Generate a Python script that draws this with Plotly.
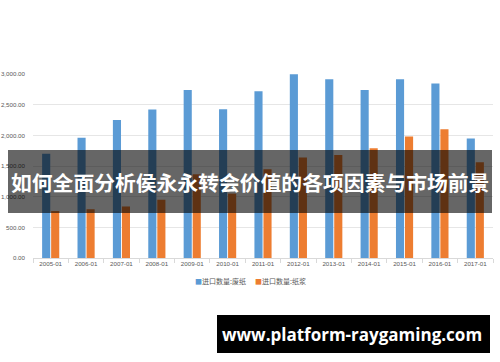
import plotly.graph_objects as go

categories = ["2005-01", "2006-01", "2007-01", "2008-01", "2009-01", "2010-01", "2011-01",
              "2012-01", "2013-01", "2014-01", "2015-01", "2016-01", "2017-01"]
waste_paper = [1700, 1960, 2250, 2420, 2740, 2425, 2720, 2995, 2915, 2740, 2915, 2845, 1950]
pulp = [765, 795, 840, 950, 1365, 1050, 1445, 1640, 1680, 1790, 1980, 2100, 1560]
series_names = ["进口数量:废纸", "进口数量:纸浆"]
y_ticks = [0, 500, 1000, 1500, 2000, 2500, 3000]
title_text = "如何全面分析侯永永转会价值的各项因素与市场前景"
watermark = "www.platform-raygaming.com"

BLUE = "#5B9BD5"
ORANGE = "#ED7D31"

W, H = 500, 362
L, R, T, B = 33, 7, 74, 104
PW, PH = W - L - R, H - T - B


def px(x):
    return (x - L) / PW


def py(y):
    return (H - B - y) / PH


fig = go.Figure()
fig.add_bar(x=categories, y=waste_paper, name=series_names[0], marker_color=BLUE,
            marker_line_width=0, showlegend=False)
fig.add_bar(x=categories, y=pulp, name=series_names[1], marker_color=ORANGE,
            marker_line_width=0, showlegend=False)

tick_font = dict(family="Liberation Sans, Arial, sans-serif", size=6.2, color="#595959")

fig.update_layout(
    width=W, height=H,
    margin=dict(l=L, r=R, t=T, b=B, autoexpand=False),
    paper_bgcolor="white", plot_bgcolor="white",
    barmode="group", bargap=0.49, bargroupgap=0.1,
    xaxis=dict(type="category", showgrid=False, showline=True, linecolor="#D9D9D9",
               linewidth=1, ticks="outside", tickson="boundaries", ticklen=4,
               tickcolor="#D9D9D9", tickfont=tick_font, tickangle=0, automargin=False),
    yaxis=dict(range=[0, 3000], tickvals=y_ticks, tickformat=",.2f", showgrid=True,
               gridcolor="#E6E6E6", gridwidth=1, zeroline=False, showline=False,
               tickfont=tick_font, ticklabelstandoff=7, automargin=False),
)

# legend as text annotations
leg_font = dict(family="Noto Sans CJK SC, sans-serif", size=7, color="#595959")
fig.add_annotation(x=px(248), y=py(281), xref="paper", yref="paper", xanchor="right",
                   yanchor="middle", showarrow=False, font=leg_font,
                   text=f"<span style='color:{BLUE}'>■</span>{series_names[0]}")
fig.add_annotation(x=px(253), y=py(281), xref="paper", yref="paper", xanchor="left",
                   yanchor="middle", showarrow=False, font=leg_font,
                   text=f"<span style='color:{ORANGE}'>■</span>{series_names[1]}")

# dark banner with title
fig.add_shape(type="rect", xref="paper", yref="paper", x0=px(8), x1=px(492),
              y0=py(213), y1=py(150), fillcolor="rgba(0,0,0,0.6)", line_width=0,
              layer="above")
fig.add_annotation(x=px(250), y=py(182), xref="paper", yref="paper", xanchor="center",
                   yanchor="middle", showarrow=False,
                   font=dict(family="Noto Sans CJK SC, sans-serif", size=20.8, color="white",
                             weight=700),
                   text=title_text)

# watermark box
fig.add_shape(type="rect", xref="paper", yref="paper", x0=px(217), x1=px(490),
              y0=py(353), y1=py(315), fillcolor="black", line_width=0, layer="above")
fig.add_annotation(x=px(352), y=py(334), xref="paper", yref="paper", xanchor="center",
                   yanchor="middle", showarrow=False,
                   font=dict(family="Open Sans, sans-serif", size=17, color="white",
                             weight=700),
                   text=watermark)

fig.write_html("out.html")
